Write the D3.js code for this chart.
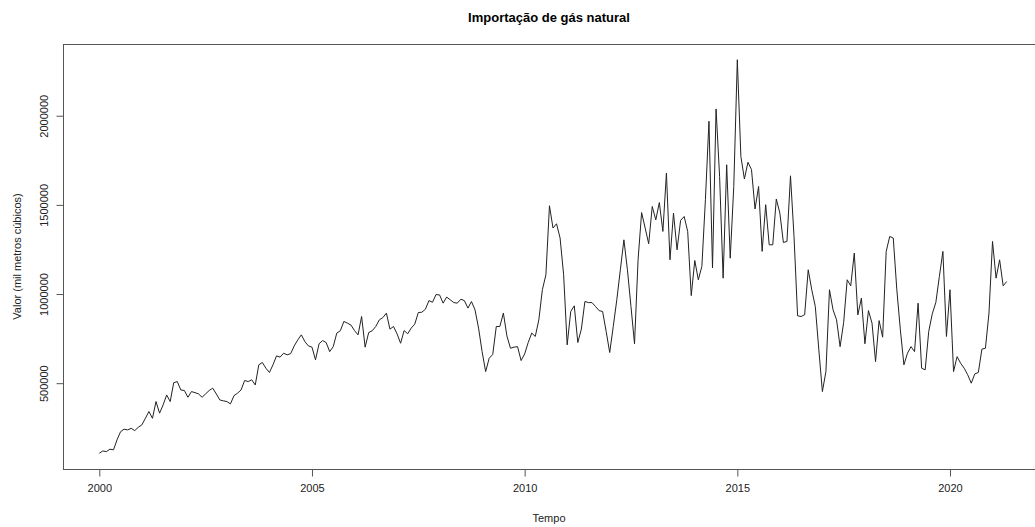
<!DOCTYPE html>
<html>
<head>
<meta charset="utf-8">
<script src="https://cdn.jsdelivr.net/npm/d3@7"></script>
<style>
  html, body { margin: 0; padding: 0; background: #fff; }
  svg { display: block; font-family: "Liberation Sans", Arial, sans-serif; }
</style>
</head>
<body>
<svg id="chart" width="1035" height="527"></svg>
<script>
// Monthly natural gas imports (thousand m³), January 2000 onwards
const startYear = 2000;
const startMonth = 0; // January
const values = [
  107000, 120000, 116000, 130000, 126000, 182000, 228000, 242000, 238000, 247000, 234000, 253000,
  266000, 303000, 341000, 303000, 397000, 332000, 378000, 434000, 397000, 503000, 509000, 462000,
  459000, 421000, 453000, 447000, 440000, 421000, 440000, 459000, 472000, 440000, 406000, 401000,
  397000, 384000, 430000, 444000, 462000, 515000, 509000, 519000, 490000, 603000, 616000, 584000,
  560000, 603000, 653000, 646000, 668000, 659000, 666000, 709000, 743000, 771000, 733000, 709000,
  702000, 631000, 721000, 739000, 728000, 677000, 705000, 781000, 794000, 846000, 837000, 826000,
  795000, 771000, 874000, 702000, 784000, 794000, 818000, 855000, 868000, 893000, 803000, 818000,
  777000, 724000, 795000, 777000, 809000, 831000, 896000, 898000, 915000, 963000, 954000, 997000,
  995000, 949000, 983000, 968000, 952000, 949000, 971000, 963000, 921000, 958000, 911000, 809000,
  677000, 565000, 640000, 661000, 818000, 818000, 893000, 765000, 696000, 702000, 705000, 627000,
  664000, 728000, 781000, 762000, 855000, 1024000, 1108000, 1495000, 1370000, 1394000, 1314000, 1108000,
  715000, 902000, 934000, 728000, 803000, 958000, 952000, 952000, 930000, 907000, 902000, 790000,
  672000, 818000, 968000, 1136000, 1304000, 1136000, 930000, 721000, 1192000, 1457000, 1370000, 1282000,
  1491000, 1416000, 1513000, 1351000, 1678000, 1192000, 1454000, 1248000, 1413000, 1435000, 1351000, 991000,
  1188000, 1080000, 1155000, 1529000, 1969000, 1146000, 2038000, 1659000, 1089000, 1725000, 1201000, 1603000,
  2314000, 1772000, 1645000, 1739000, 1698000, 1477000, 1603000, 1239000, 1501000, 1276000, 1276000, 1533000,
  1454000, 1289000, 1295000, 1663000, 1323000, 878000, 874000, 884000, 1136000, 1024000, 930000, 687000,
  453000, 566000, 1024000, 912000, 855000, 705000, 840000, 1080000, 1046000, 1230000, 883000, 977000,
  721000, 907000, 837000, 621000, 851000, 758000, 1239000, 1323000, 1314000, 1024000, 799000, 603000,
  668000, 705000, 677000, 949000, 584000, 575000, 790000, 889000, 952000, 1098000, 1239000, 762000,
  1024000, 565000, 649000, 612000, 584000, 547000, 500000, 552000, 560000, 691000, 696000, 893000,
  1295000, 1089000, 1192000, 1046000, 1070000
];
const xTicks = [2000, 2005, 2010, 2015, 2020];
const yTicks = [500000, 1000000, 1500000, 2000000];
const titleText = "Importação de gás natural";
const xLabel = "Tempo";
const yLabel = "Valor (mil metros cúbicos)";

const series = values.map((v, i) => ({ t: startYear + (startMonth + i) / 12, v }));

// Plot region
const box = { left: 63, right: 1043, top: 44, bottom: 469 };

// Axis ranges padded by 4% on each side
function padded(ext) {
  const r = ext[1] - ext[0];
  return [ext[0] - 0.04 * r, ext[1] + 0.04 * r];
}
const x = d3.scaleLinear().domain(padded(d3.extent(series, d => d.t))).range([box.left, box.right]);
const y = d3.scaleLinear().domain(padded(d3.extent(series, d => d.v))).range([box.bottom, box.top]);

const svg = d3.select("#chart");
const ink = "#222";

// Series line
svg.append("path")
  .datum(series)
  .attr("fill", "none")
  .attr("stroke", ink)
  .attr("stroke-width", 1)
  .attr("stroke-linejoin", "miter")
  .attr("d", d3.line().x(d => x(d.t)).y(d => y(d.v)));

// Frame
svg.append("rect")
  .attr("x", box.left + 0.5).attr("y", box.top + 0.5)
  .attr("width", box.right - box.left).attr("height", box.bottom - box.top)
  .attr("fill", "none").attr("stroke", "#555").attr("stroke-width", 1);

// Bottom axis
const xAxis = d3.axisBottom(x).tickValues(xTicks).tickFormat(d3.format("d"))
  .tickSize(7).tickPadding(8);
const gx = svg.append("g").attr("transform", `translate(0,${box.bottom + 0.5})`).call(xAxis);
gx.select(".domain").remove();
gx.selectAll(".tick line").attr("stroke", "#555");
gx.selectAll(".tick text").attr("fill", ink).attr("font-size", 11).attr("font-family", "Liberation Sans, Arial, sans-serif");

// Left axis with vertical labels
const yAxis = d3.axisLeft(y).tickValues(yTicks).tickFormat(d3.format("d")).tickSize(7);
const gy = svg.append("g").attr("transform", `translate(${box.left + 0.5},0)`).call(yAxis);
gy.select(".domain").remove();
gy.selectAll(".tick line").attr("stroke", "#555");
gy.selectAll(".tick text")
  .attr("fill", ink).attr("font-size", 11).attr("font-family", "Liberation Sans, Arial, sans-serif")
  .attr("x", 0).attr("dy", null)
  .attr("text-anchor", "middle")
  .attr("dominant-baseline", "central")
  .attr("transform", "translate(-20,0) rotate(-90)");

// Titles
svg.append("text")
  .attr("x", 549).attr("y", 22)
  .attr("text-anchor", "middle")
  .attr("font-size", 13).attr("font-weight", "bold").attr("fill", "#000")
  .text(titleText);

svg.append("text")
  .attr("x", 549).attr("y", 522)
  .attr("text-anchor", "middle")
  .attr("font-size", 11).attr("fill", ink)
  .text(xLabel);

svg.append("text")
  .attr("transform", `translate(17,${(box.top + box.bottom) / 2}) rotate(-90)`)
  .attr("text-anchor", "middle")
  .attr("dominant-baseline", "central")
  .attr("font-size", 11).attr("fill", ink)
  .text(yLabel);
</script>
</body>
</html>
